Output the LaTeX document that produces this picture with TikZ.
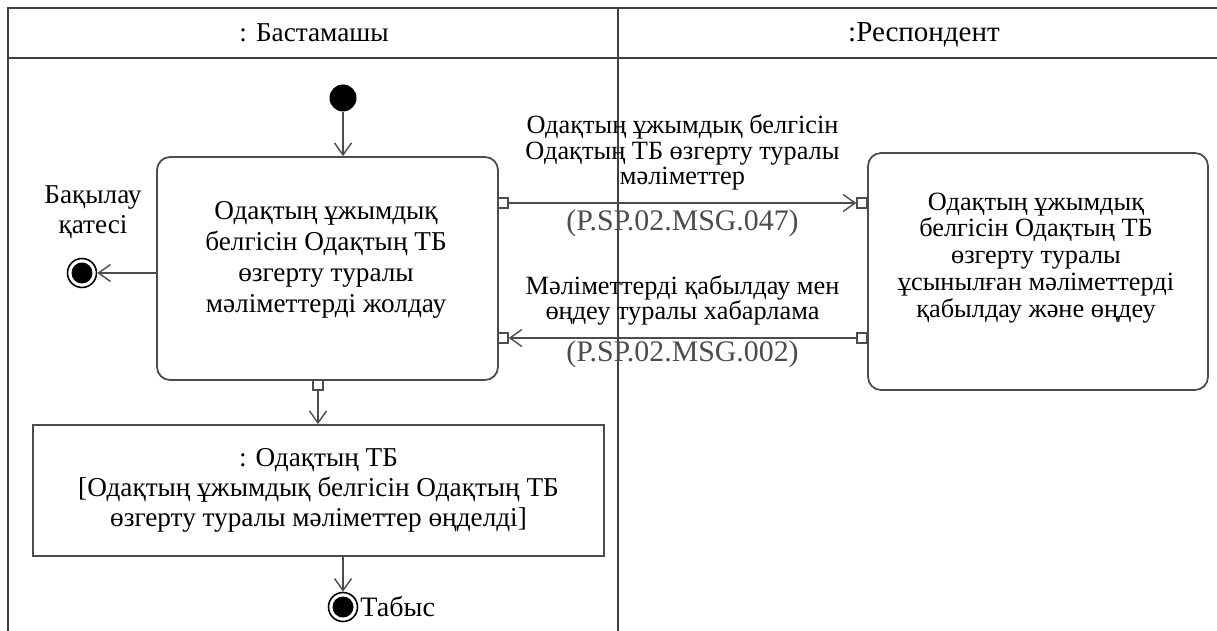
\documentclass[tikz,border=0pt]{standalone}
\usepackage{fontspec}
\setmainfont{Liberation Serif}
\usetikzlibrary{arrows.meta}

\begin{document}
\begin{tikzpicture}[x=0.02cm, y=-0.02cm,
    every node/.style={align=center, font=\fontsize{15}{14.6}\selectfont},
    lane/.style={line width=1.2pt, black!75},
    action/.style={draw=black!70, line width=1pt, rounded corners=0.26cm, fill=white, inner sep=0pt},
    objbox/.style={draw=black!70, line width=1pt, fill=white, inner sep=0pt},
    pinsq/.style={draw=black!70, line width=0.8pt, fill=white, minimum size=0.2cm, inner sep=0pt},
    flow/.style={draw=black!70, line width=0.8pt, -{Straight Barb[length=0.24cm, width=0.34cm]}},
    startdot/.style={circle, fill=black, minimum size=0.54cm, inner sep=0pt},
    enddot/.style={circle, draw=black, line width=0.9pt, fill=white, minimum size=0.58cm, inner sep=0pt,
      path picture={\fill[black] (path picture bounding box.center) circle (0.21cm);}},
    msgcode/.style={font=\fontsize{17}{18}\selectfont, text=black!70}]
  \useasboundingbox (0,0) rectangle (1217,631);

  % Swimlane frame
  \draw[lane] (8,631) -- (8,8) -- (1217,8);
  \draw[lane] (8,58) -- (1217,58);
  \draw[lane] (618,8) -- (618,631);
  \node[anchor=base, font=\fontsize{15.5}{17}\selectfont] (laneA) at (314,42) {: Бастамашы};
  \node[anchor=base, font=\fontsize{16.5}{18}\selectfont] (laneB) at (924,42) {:Респондент};

  % Initiator side
  \node[startdot] (init) at (343,98) {};
  \node[action, minimum width=6.82cm, minimum height=4.46cm] (send) at (327.5,268.5) {};
  \node[font=\fontsize{15.5}{17.6}\selectfont] (sendText) at (326,260)
    {Одақтың ұжымдық\\белгісін Одақтың ТБ\\өзгерту туралы\\мәліметтерді жолдау};
  \node[pinsq] (sendOut) at (503,203) {};
  \node[pinsq] (sendIn) at (503,338) {};
  \node[pinsq] (sendDown) at (318,385) {};
  \node[enddot] (errEnd) at (82,273) {};
  \node[font=\fontsize{15.5}{17}\selectfont] (errLabel) at (93,212) {Бақылау\\қатесі};

  \node[objbox, minimum width=11.42cm, minimum height=2.62cm, font=\fontsize{15.5}{17}\selectfont]
    (result) at (318.5,490.5)
    {: Одақтың ТБ\\{[}Одақтың ұжымдық белгісін Одақтың ТБ\\өзгерту туралы мәліметтер өңделді]};
  \node[enddot] (okEnd) at (343,607) {};
  \node[anchor=west, inner sep=1pt, font=\fontsize{16}{18}\selectfont] (okLabel) at (okEnd.east) {Табыс};

  % Respondent side
  \node[action, minimum width=6.8cm, minimum height=4.74cm] (recv) at (1038,271.5) {};
  \node[font=\fontsize{15}{15.3}\selectfont] (recvText) at (1036,258)
    {Одақтың ұжымдық\\белгісін Одақтың ТБ\\өзгерту туралы\\ұсынылған мәліметтерді\\қабылдау және өңдеу};
  \node[pinsq] (recvIn) at (862,203) {};
  \node[pinsq] (recvOut) at (862,338) {};

  % Control flow
  \draw[flow] (init) -- (init |- send.north);
  \draw[flow] (send.west |- errEnd) -- (errEnd);
  \draw[flow] (sendDown) -- (sendDown |- result.north);
  \draw[flow] (result.south -| okEnd) -- (okEnd);

  % Messages between lanes
  \draw[flow] (sendOut) -- (recvIn)
    node[midway, above=0.12cm] (msgA) {Одақтың ұжымдық белгісін\\Одақтың ТБ өзгерту туралы\\мәліметтер}
    node[midway, below=0pt, msgcode] (codeA) {(P.SP.02.MSG.047)};
  \draw[flow] (recvOut) -- (sendIn)
    node[midway, above=0.12cm] (msgB) {Мәліметтерді қабылдау мен\\өңдеу туралы хабарлама}
    node[midway, below=-0.08cm, msgcode] (codeB) {(P.SP.02.MSG.002)};
\end{tikzpicture}
\end{document}
